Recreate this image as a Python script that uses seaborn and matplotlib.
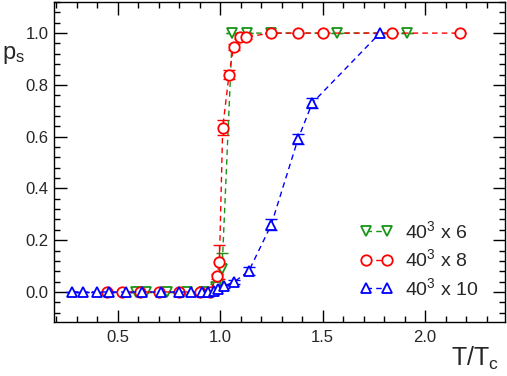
import matplotlib
matplotlib.use('Agg')
import matplotlib.pyplot as plt
import seaborn as sns
from matplotlib.ticker import MultipleLocator, FormatStrFormatter

# 40^3 x 6
nt6_x = [0.59, 0.64, 0.74, 0.84, 0.92, 0.98, 1.01, 1.06, 1.13, 1.25, 1.57, 1.91]
nt6_y = [0.0, 0.0, 0.0, 0.0, 0.0, 0.02, 0.09, 1.0, 1.0, 1.0, 1.0, 1.0]
nt6_err = [0.0, 0.0, 0.0, 0.0, 0.0, 0.01, 0.06, 0.0, 0.0, 0.0, 0.0, 0.0]

# 40^3 x 8
nt8_x = [0.45, 0.52, 0.61, 0.70, 0.80, 0.90, 0.95, 0.985, 0.997, 1.013, 1.044,
         1.066, 1.098, 1.127, 1.25, 1.38, 1.50, 1.84, 2.17]
nt8_y = [0.0, 0.0, 0.0, 0.0, 0.0, 0.0, 0.0, 0.06, 0.115, 0.635, 0.84,
         0.945, 0.985, 0.985, 1.0, 1.0, 1.0, 1.0, 1.0]
nt8_err = [0.0, 0.0, 0.0, 0.0, 0.0, 0.0, 0.0, 0.01, 0.065, 0.03, 0.018,
           0.012, 0.006, 0.006, 0.0, 0.0, 0.0, 0.0, 0.0]

# 40^3 x 10
nt10_x = [0.28, 0.33, 0.40, 0.46, 0.54, 0.62, 0.71, 0.80, 0.86, 0.91, 0.94,
          0.97, 0.99, 1.02, 1.07, 1.14, 1.25, 1.38, 1.45, 1.78]
nt10_y = [0.0, 0.0, 0.0, 0.0, 0.0, 0.0, 0.0, 0.0, 0.0, 0.0, 0.0,
          0.005, 0.012, 0.022, 0.04, 0.08, 0.26, 0.59, 0.73, 1.0]
nt10_err = [0.0, 0.0, 0.0, 0.0, 0.0, 0.0, 0.0, 0.0, 0.0, 0.0, 0.0,
            0.003, 0.004, 0.006, 0.008, 0.015, 0.02, 0.02, 0.02, 0.0]

labels = ['$40^3$ x 6', '$40^3$ x 8', '$40^3$ x 10']

sns.set_style('ticks')
plt.rcParams['font.family'] = ['Liberation Sans', 'DejaVu Sans']
plt.rcParams['mathtext.fontset'] = 'custom'
plt.rcParams['mathtext.rm'] = 'Liberation Sans'
plt.rcParams['mathtext.it'] = 'Liberation Sans'

fig = plt.figure(figsize=(5.07, 3.76), dpi=100)
ax = fig.add_axes([0.1065, 0.1436, 0.8895, 0.851])

series = [
    (nt6_x, nt6_y, nt6_err, '#189418', 'v', labels[0]),
    (nt8_x, nt8_y, nt8_err, '#ff0000', 'o', labels[1]),
    (nt10_x, nt10_y, nt10_err, '#0000ff', '^', labels[2]),
]

for xs, ys, es, col, mk, lab in series:
    ax.errorbar(xs, ys, yerr=es, fmt='none', ecolor=col, elinewidth=1.0,
                capsize=4.5, capthick=1.0, zorder=2)
    sns.lineplot(x=xs, y=ys, ax=ax, color=col, marker=mk, markersize=7.5,
                 markerfacecolor='white', markeredgecolor=col, markeredgewidth=1.3,
                 linestyle=(0, (4, 3)), linewidth=1.0, label=lab, sort=False,
                 estimator=None, zorder=3)

ax.set_xlim(0.19, 2.39)
ax.set_ylim(-0.116, 1.12)
ax.xaxis.set_major_locator(MultipleLocator(0.5))
ax.xaxis.set_minor_locator(MultipleLocator(0.1))
ax.yaxis.set_major_locator(MultipleLocator(0.2))
ax.yaxis.set_minor_locator(MultipleLocator(0.04))
ax.xaxis.set_major_formatter(FormatStrFormatter('%.1f'))
ax.yaxis.set_major_formatter(FormatStrFormatter('%.1f'))
ax.tick_params(which='both', direction='in', top=True, right=True,
               labelsize=12, width=1.0, color='black')
ax.tick_params(which='major', length=9)
ax.tick_params(which='minor', length=4.5)
ax.tick_params(axis='x', pad=6)
ax.tick_params(axis='y', pad=4)
for s in ax.spines.values():
    s.set_linewidth(1.0)
    s.set_color('black')
ax.set_xlabel('')
ax.set_ylabel('')

fig.text(0.985, 0.01, 'T/T$_c$', ha='right', va='bottom', fontsize=18)
fig.text(0.004, 0.855, 'p$_s$', ha='left', va='center', fontsize=17)

leg = ax.legend(loc='lower left', bbox_to_anchor=(0.648, 0.03), frameon=False,
                fontsize=14, numpoints=2, handlelength=1.7, handletextpad=0.6,
                labelspacing=0.33, borderpad=0.2, markerscale=1.0)

fig.savefig('out.png', dpi=100)
